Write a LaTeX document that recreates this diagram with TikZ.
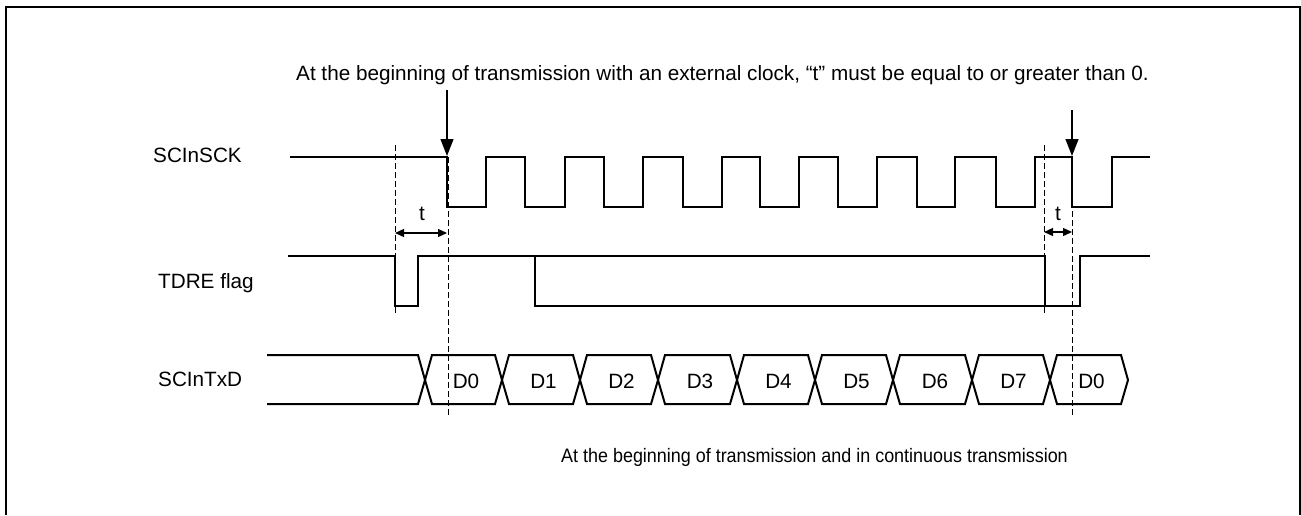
\documentclass[tikz,border=0pt]{standalone}
\usepackage{fontspec}
\setmainfont{Liberation Sans}
\usetikzlibrary{arrows.meta}
\begin{document}
\begin{tikzpicture}[x=1pt,y=-1pt,
  wave/.style={line width=2pt, line join=miter},
  guide/.style={line width=1pt, dash pattern=on 6pt off 3pt},
  lbl/.style={font=\fontsize{20.7}{24}\selectfont, inner sep=0pt},
  bigarrow/.style={line width=1.3pt, -{Triangle[length=17pt,width=13pt]}},
  dimarrow/.style={line width=1.3pt, {Triangle[length=9pt,width=8pt]}-{Triangle[length=9pt,width=8pt]}},
]
\useasboundingbox (0,0) rectangle (1301,515);
% frame
\draw[line width=2.2pt] (6,515) -- (6,7) -- (1300,7) -- (1300,515);

% texts
\node[lbl, anchor=base] (title) at (722.5,80) {At the beginning of transmission with an external clock, “t” must be equal to or greater than 0.};
\node[lbl, anchor=base west] (sck) at (153,162.7) {SCInSCK};
\node[lbl, anchor=base west] (tdre) at (158,288.3) {TDRE flag};
\node[lbl, anchor=base west] (txd) at (158,386.7) {SCInTxD};
\node[lbl, font=\fontsize{19.5}{23}\selectfont, anchor=base east] (note) at (1068,462.7) {\scalebox{0.92}[1]{At the beginning of transmission and in continuous transmission}};

% SCInSCK clock
\draw[wave] (290,157) -- (447,157) -- (447,207) -- (486,207) -- (486,157) -- (525,157) -- (525,207) -- (565,207) -- (565,157) -- (604,157) -- (604,207) -- (643,207) -- (643,157) -- (683,157) -- (683,207) -- (722,207) -- (722,157) -- (760,157) -- (760,207) -- (799,207) -- (799,157) -- (838,157) -- (838,207) -- (877,207) -- (877,157) -- (917,157) -- (917,207) -- (955,207) -- (955,157) -- (996,157) -- (996,207) -- (1035,207) -- (1035,157) -- (1072,157) -- (1072,207) -- (1112,207) -- (1112,157) -- (1150,157);

% TDRE flag
\draw[wave] (288,256) -- (395,256) -- (395,306) -- (418,306) -- (418,256) -- (1045,256) -- (1045,306) -- (1080,306) -- (1080,256) -- (1150,256);
\draw[wave] (535,256) -- (535,306) -- (1045,306);

% SCInTxD
\draw[wave] (267,355) -- (418,355) -- (425,380) -- (418,404) -- (267,404);
\foreach \a/\b/\t/\n in {425/502/D0/da, 502/580/D1/db, 580/658/D2/dc, 658/737/D3/dd, 737/815/D4/de, 815/893/D5/df, 893/972/D6/dg, 972/1050/D7/dh, 1050/1128/D0/di}{
  \draw[wave] (\a,380) -- (\a+7,355) -- (\b-7,355) -- (\b,380) -- (\b-7,404) -- (\a+7,404) -- cycle;
  \node[lbl, anchor=base] (\n) at ({(\a+\b)/2+2.5},388) {\t};
}

% guides
\coordinate (g1t) at (395,145); \coordinate (g1b) at (395,313);
\coordinate (g2t) at (448,157); \coordinate (g2b) at (448,415);
\coordinate (g3t) at (1044,145); \coordinate (g3b) at (1044,313);
\coordinate (g4t) at (1072,157); \coordinate (g4b) at (1072,415);
\draw[guide] (g1t) -- (g1b);
\draw[guide] (g2t) -- (g2b);
\draw[guide] (g3t) -- (g3b);
\draw[guide] (g4t) -- (g4b);

% arrows
\coordinate (a1s) at (447,90); \coordinate (a1e) at (447,156);
\coordinate (a2s) at (1072,110); \coordinate (a2e) at (1072,156);
\draw[bigarrow] (a1s) -- (a1e);
\draw[bigarrow] (a2s) -- (a2e);

\coordinate (t1l) at (395,233); \coordinate (t1r) at (447,233);
\coordinate (t2l) at (1044,232); \coordinate (t2r) at (1072,232);
\draw[dimarrow] (t1l) -- (t1r);
\draw[dimarrow] (t2l) -- (t2r);
\node[lbl, anchor=base] (tl) at (422,220) {t};
\node[lbl, anchor=base] (tr) at (1058,220) {t};
\end{tikzpicture}
\end{document}
